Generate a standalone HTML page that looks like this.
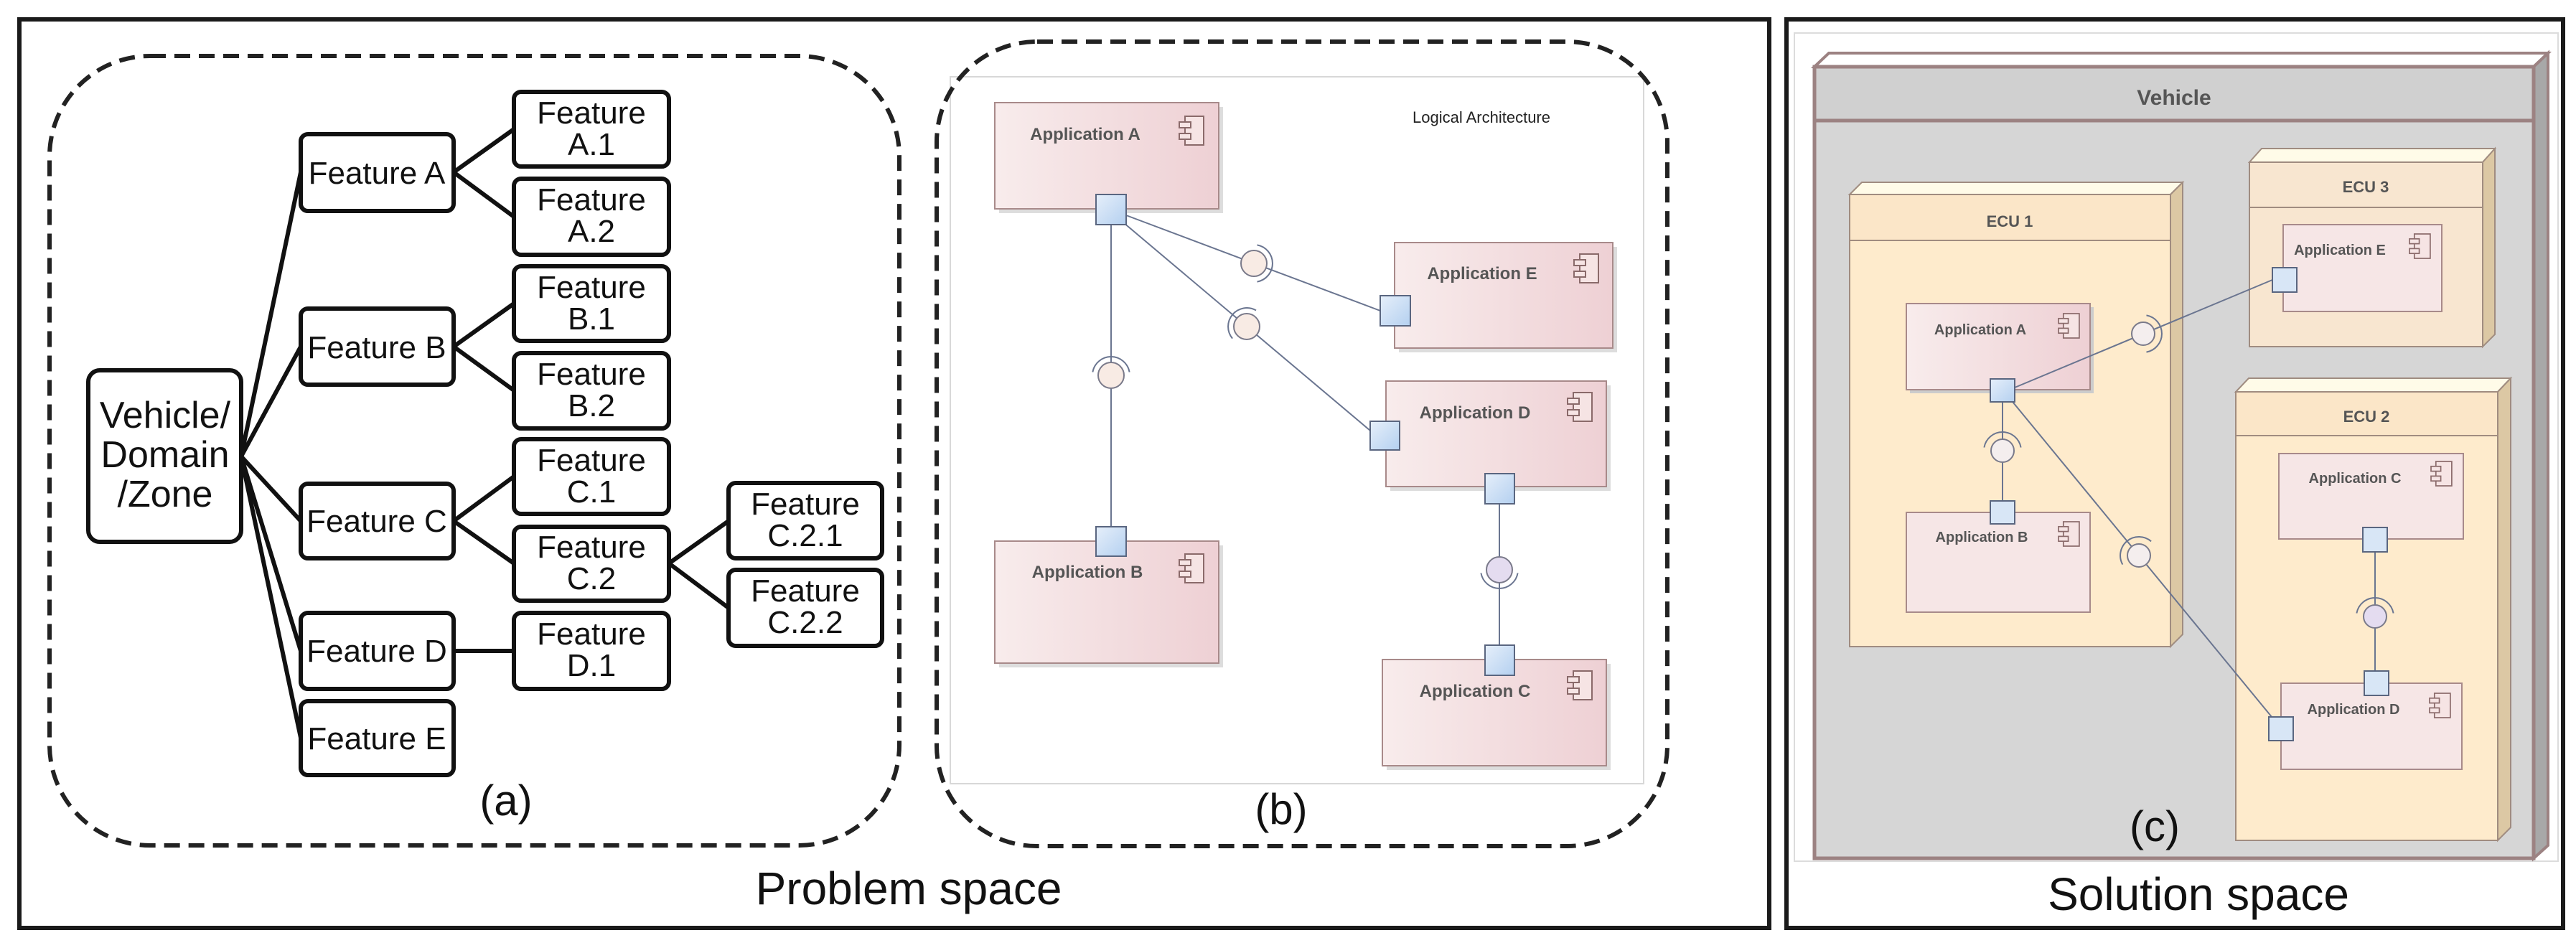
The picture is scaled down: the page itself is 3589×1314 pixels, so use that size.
<!DOCTYPE html>
<html><head><meta charset="utf-8"><style>
html,body{margin:0;padding:0;background:#fff}
svg{display:block}
text{font-family:"Liberation Sans",sans-serif}
</style></head><body>
<svg width="3589" height="1314" viewBox="0 0 3589 1314" xmlns="http://www.w3.org/2000/svg">
<defs>
<linearGradient id="app" x1="0" x2="1" y1="0" y2="0"><stop offset="0" stop-color="#f8ecec"/><stop offset="1" stop-color="#eed0d4"/></linearGradient>
<linearGradient id="port" x1="0" x2="1" y1="0" y2="1"><stop offset="0" stop-color="#e6effa"/><stop offset="1" stop-color="#b4d0f0"/></linearGradient>
<g id="icon" fill="none" stroke="#8a6a6a" stroke-width="2">
<rect x="8" y="0" width="26" height="40" fill="#f6e4e4"/><rect x="0" y="8" width="16" height="8" fill="#f6e4e4"/><rect x="0" y="24" width="16" height="8" fill="#f6e4e4"/>
</g>
</defs>

<!-- outer frames -->
<rect x="27" y="27" width="2438" height="1266" fill="none" stroke="#1a1a1a" stroke-width="6"/>
<rect x="2489" y="27" width="1082" height="1266" fill="none" stroke="#1a1a1a" stroke-width="6"/>

<!-- (a) -->
<rect x="69" y="78" width="1184" height="1100" rx="140" fill="none" stroke="#222" stroke-width="6" stroke-dasharray="22 12"/>
<g stroke="#111" stroke-width="6" fill="none">
<line x1="336" y1="636" x2="419" y2="240"/>
<line x1="336" y1="636" x2="419" y2="483"/>
<line x1="336" y1="636" x2="419" y2="726"/>
<line x1="336" y1="636" x2="419" y2="907"/>
<line x1="336" y1="636" x2="419" y2="1028"/>
<line x1="632" y1="240" x2="716" y2="180"/><line x1="632" y1="240" x2="716" y2="302"/>
<line x1="632" y1="483" x2="716" y2="423"/><line x1="632" y1="483" x2="716" y2="544"/>
<line x1="632" y1="726" x2="716" y2="664"/><line x1="632" y1="726" x2="716" y2="785"/>
<line x1="632" y1="907" x2="716" y2="907"/>
<line x1="932" y1="785" x2="1015" y2="726"/><line x1="932" y1="785" x2="1015" y2="847"/>
</g>
<g stroke="#111" stroke-width="6" fill="#fff">
<rect x="123" y="516" width="213" height="239" rx="16"/>
<rect x="419" y="187" width="213" height="107" rx="10"/>
<rect x="419" y="430" width="213" height="106" rx="10"/>
<rect x="419" y="674" width="213" height="104" rx="10"/>
<rect x="419" y="854" width="213" height="106" rx="10"/>
<rect x="419" y="977" width="213" height="103" rx="10"/>
<rect x="716" y="128" width="216" height="104" rx="10"/>
<rect x="716" y="249" width="216" height="106" rx="10"/>
<rect x="716" y="371" width="216" height="104" rx="10"/>
<rect x="716" y="492" width="216" height="105" rx="10"/>
<rect x="716" y="612" width="216" height="104" rx="10"/>
<rect x="716" y="734" width="216" height="103" rx="10"/>
<rect x="716" y="854" width="216" height="106" rx="10"/>
<rect x="1015" y="673" width="214" height="105" rx="10"/>
<rect x="1015" y="794" width="214" height="106" rx="10"/>
</g>
<g font-size="44" fill="#111" text-anchor="middle">
<text x="230" y="596" font-size="52">Vehicle/</text><text x="230" y="651" font-size="52">Domain</text><text x="230" y="706" font-size="52">/Zone</text>
<text x="525" y="256">Feature A</text>
<text x="525" y="499">Feature B</text>
<text x="525" y="741">Feature C</text>
<text x="525" y="922">Feature D</text>
<text x="525" y="1044">Feature E</text>
<text x="824" y="172">Feature</text><text x="824" y="216">A.1</text>
<text x="824" y="293">Feature</text><text x="824" y="337">A.2</text>
<text x="824" y="415">Feature</text><text x="824" y="459">B.1</text>
<text x="824" y="536">Feature</text><text x="824" y="580">B.2</text>
<text x="824" y="656">Feature</text><text x="824" y="700">C.1</text>
<text x="824" y="777">Feature</text><text x="824" y="821">C.2</text>
<text x="824" y="898">Feature</text><text x="824" y="942">D.1</text>
<text x="1122" y="717">Feature</text><text x="1122" y="761">C.2.1</text>
<text x="1122" y="838">Feature</text><text x="1122" y="882">C.2.2</text>
<text x="705" y="1136" font-size="60">(a)</text>
<text x="1266" y="1260" font-size="64">Problem space</text>
</g>

<!-- (b) -->
<rect x="1324" y="107" width="966" height="985" fill="none" stroke="#d8d8d8" stroke-width="2"/>
<rect x="1305" y="58" width="1018" height="1121" rx="140" fill="none" stroke="#222" stroke-width="6" stroke-dasharray="22 12"/>
<text x="2064" y="171" font-size="22" text-anchor="middle" fill="#222">Logical Architecture</text>
<g stroke="#a88a8a" stroke-width="2" fill="url(#app)">
<rect x="1392" y="149" width="312" height="148" fill="#ddd" stroke="none"/>
<rect x="1386" y="143" width="312" height="148"/>
<rect x="1949" y="344" width="304" height="147" fill="#ddd" stroke="none"/>
<rect x="1943" y="338" width="304" height="147"/>
<rect x="1937" y="537" width="307" height="147" fill="#ddd" stroke="none"/>
<rect x="1931" y="531" width="307" height="147"/>
<rect x="1392" y="760" width="312" height="170" fill="#ddd" stroke="none"/>
<rect x="1386" y="754" width="312" height="170"/>
<rect x="1932" y="925" width="312" height="148" fill="#ddd" stroke="none"/>
<rect x="1926" y="919" width="312" height="148"/>
</g>
<g font-size="24" font-weight="bold" fill="#555" text-anchor="middle">
<text x="1512" y="195">Application A</text>
<text x="2065" y="389">Application E</text>
<text x="2055" y="583">Application D</text>
<text x="1515" y="805">Application B</text>
<text x="2055" y="971">Application C</text>
</g>
<use href="#icon" x="1643" y="162"/>
<use href="#icon" x="2193" y="354"/>
<use href="#icon" x="2184" y="547"/>
<use href="#icon" x="1643" y="772"/>
<use href="#icon" x="2184" y="935"/>
<g stroke="#6a7590" stroke-width="2" fill="none">
<line x1="1548" y1="313" x2="1548" y2="734"/>
<line x1="1569" y1="300" x2="1923" y2="433"/>
<line x1="1565" y1="310" x2="1909" y2="600"/>
<line x1="2089" y1="702" x2="2089" y2="899"/>
<path d="M1522.4 518.5 A26 26 0 0 1 1573.6 518.5"/>
<path d="M1751.5 341.4 A26 26 0 0 1 1751.5 392.6"/>
<path d="M1717.1 471.7 A26 26 0 0 1 1750 432.5"/>
<path d="M2114.6 798.5 A26 26 0 0 1 2063.4 798.5"/>
</g>
<g stroke="#7a7a8a" stroke-width="2">
<circle cx="1548" cy="523" r="18" fill="#f8ebe4"/>
<circle cx="1747" cy="367" r="18" fill="#f8ebe4"/>
<circle cx="1737" cy="455" r="18" fill="#f8ebe4"/>
<circle cx="2089" cy="794" r="18" fill="#e4dcf0"/>
</g>
<g stroke="#5a6680" stroke-width="2" fill="url(#port)">
<rect x="1527" y="271" width="42" height="42"/>
<rect x="1923" y="412" width="42" height="42"/>
<rect x="1909" y="587" width="41" height="40"/>
<rect x="2069" y="660" width="41" height="42"/>
<rect x="1527" y="734" width="42" height="41"/>
<rect x="2069" y="899" width="41" height="42"/>
</g>
<text x="1785" y="1148" font-size="60" text-anchor="middle" fill="#111">(b)</text>

<!-- (c) -->
<rect x="2500" y="46" width="1064" height="1154" fill="none" stroke="#dcdcdc" stroke-width="2"/>
<polygon points="2528,93 2548,74 3550,74 3530,93" fill="#fff" stroke="#9c8282" stroke-width="4"/>
<polygon points="3530,93 3550,74 3550,1178 3530,1196" fill="#a8a8a8" stroke="#9c8282" stroke-width="4"/>
<rect x="2528" y="93" width="1002" height="1103" fill="#d6d6d6" stroke="#9c8282" stroke-width="5"/>
<rect x="2528" y="93" width="1002" height="75" fill="#d0d0d0" stroke="#9c8282" stroke-width="5"/>
<text x="3029" y="146" font-size="30" font-weight="bold" text-anchor="middle" fill="#555">Vehicle</text>

<!-- ECU1 -->
<polygon points="2577,271 2594,254 3041,254 3024,271" fill="#fffbe8" stroke="#a08c80" stroke-width="2"/>
<polygon points="3024,271 3041,254 3041,884 3024,901" fill="#dcc8a4" stroke="#a08c80" stroke-width="2"/>
<rect x="2577" y="271" width="447" height="630" fill="#feebcc" stroke="#a08c80" stroke-width="2"/>
<rect x="2577" y="271" width="447" height="64" fill="#fbe6c8" stroke="#a08c80" stroke-width="2"/>
<text x="2800" y="316" font-size="22" font-weight="bold" text-anchor="middle" fill="#555">ECU 1</text>
<!-- ECU3 -->
<polygon points="3134,226 3151,207 3476,207 3459,226" fill="#fffbe8" stroke="#a08c80" stroke-width="2"/>
<polygon points="3459,226 3476,207 3476,466 3459,483" fill="#dcc8a4" stroke="#a08c80" stroke-width="2"/>
<rect x="3134" y="226" width="325" height="257" fill="#f8e6d0" stroke="#a08c80" stroke-width="2"/>
<rect x="3134" y="226" width="325" height="63" fill="#f8e6d0" stroke="#a08c80" stroke-width="2"/>
<text x="3296" y="268" font-size="22" font-weight="bold" text-anchor="middle" fill="#555">ECU 3</text>
<!-- ECU2 -->
<polygon points="3115,546 3133,527 3498,527 3480,546" fill="#fffbe8" stroke="#a08c80" stroke-width="2"/>
<polygon points="3480,546 3498,527 3498,1153 3480,1171" fill="#dcc8a4" stroke="#a08c80" stroke-width="2"/>
<rect x="3115" y="546" width="365" height="625" fill="#feebcc" stroke="#a08c80" stroke-width="2"/>
<rect x="3115" y="546" width="365" height="61" fill="#fbe6c8" stroke="#a08c80" stroke-width="2"/>
<text x="3297" y="588" font-size="22" font-weight="bold" text-anchor="middle" fill="#555">ECU 2</text>

<g stroke="#a88a8a" stroke-width="2" fill="#f6e6e6">
<rect x="2661" y="428" width="256" height="120" fill="#ccc" stroke="none"/>
<rect x="2656" y="423" width="256" height="120" fill="url(#app)"/>
<rect x="2656" y="714" width="256" height="139"/>
<rect x="3181" y="313" width="221" height="121"/>
<rect x="3175" y="632" width="257" height="119"/>
<rect x="3178" y="952" width="252" height="120"/>
</g>
<g font-size="20" font-weight="bold" fill="#555" text-anchor="middle">
<text x="2759" y="466">Application A</text>
<text x="2761" y="755">Application B</text>
<text x="3260" y="355">Application E</text>
<text x="3281" y="673">Application C</text>
<text x="3279" y="995">Application D</text>
</g>
<use href="#icon" x="2868" y="437" transform="translate(2868 437) scale(0.85) translate(-2868 -437)"/>
<use href="#icon" x="2868" y="727" transform="translate(2868 727) scale(0.85) translate(-2868 -727)"/>
<use href="#icon" x="3357" y="326" transform="translate(3357 326) scale(0.85) translate(-3357 -326)"/>
<use href="#icon" x="3387" y="643" transform="translate(3387 643) scale(0.85) translate(-3387 -643)"/>
<use href="#icon" x="3385" y="966" transform="translate(3385 966) scale(0.85) translate(-3385 -966)"/>
<g stroke="#6a7590" stroke-width="2" fill="none">
<line x1="2807" y1="540" x2="3166" y2="390"/>
<line x1="2790" y1="560" x2="2790" y2="698"/>
<line x1="2800" y1="555" x2="3170" y2="1005"/>
<line x1="3309" y1="769" x2="3309" y2="935"/>
<path d="M2990.5 439.4 A26 26 0 0 1 2990.5 490.6"/>
<path d="M2764.4 623.5 A26 26 0 0 1 2815.6 623.5"/>
<path d="M2957.3 786.6 A26 26 0 0 1 2997.1 754.4"/>
<path d="M3283.4 854.5 A26 26 0 0 1 3334.6 854.5"/>
</g>
<g stroke="#7a7a8a" stroke-width="2">
<circle cx="2986" cy="465" r="16" fill="#f4eeee"/>
<circle cx="2790" cy="628" r="16" fill="#f4eeee"/>
<circle cx="2980" cy="774" r="16" fill="#f4eeee"/>
<circle cx="3309" cy="859" r="16" fill="#e4dcf0"/>
</g>
<g stroke="#5a6680" stroke-width="2" fill="#d8e6f6">
<rect x="2773" y="528" width="34" height="32" fill="url(#port)"/>
<rect x="2773" y="698" width="34" height="32"/>
<rect x="3166" y="373" width="34" height="34"/>
<rect x="3292" y="735" width="34" height="34"/>
<rect x="3294" y="935" width="34" height="34"/>
<rect x="3161" y="999" width="34" height="33"/>
</g>
<text x="3002" y="1172" font-size="60" text-anchor="middle" fill="#111">(c)</text>
<text x="3063" y="1268" font-size="64" text-anchor="middle" fill="#111">Solution space</text>
</svg>
</body></html>
